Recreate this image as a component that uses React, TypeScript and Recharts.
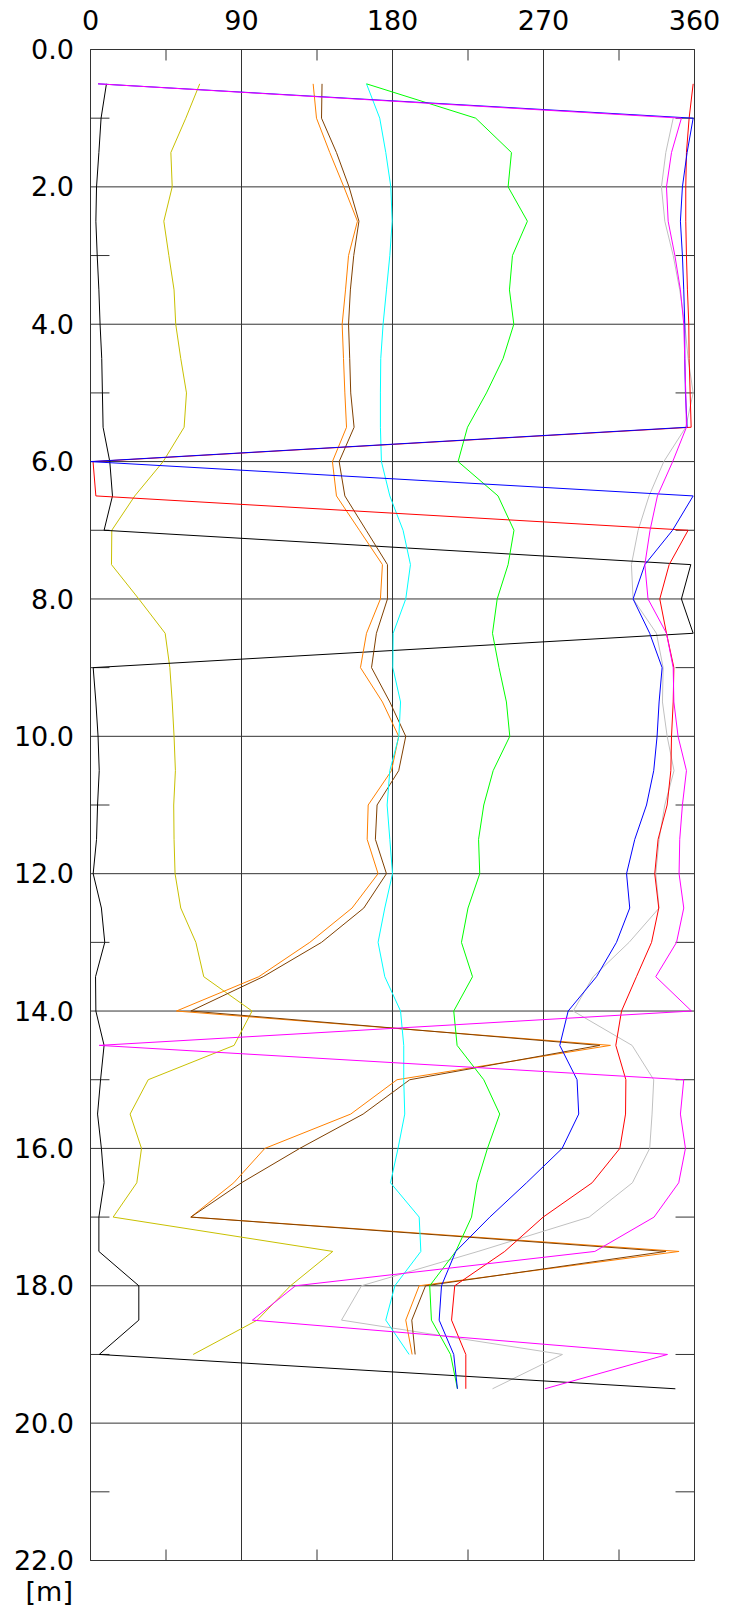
import React from 'react';
import { ScatterChart, Scatter, XAxis, YAxis, CartesianGrid, ReferenceLine } from 'recharts';

// Depth of each reading [m]
const DEPTHS = [0.5, 1.0, 1.5, 2.0, 2.5, 3.0, 3.5, 4.0, 4.5, 5.0, 5.5, 6.0, 6.5, 7.0, 7.5, 8.0, 8.5, 9.0, 9.5, 10.0,
  10.5, 11.0, 11.5, 12.0, 12.5, 13.0, 13.5, 14.0, 14.5, 15.0, 15.5, 16.0, 16.5, 17.0, 17.5, 18.0, 18.5, 19.0, 19.5];

const X_TICKS = [0, 90, 180, 270, 360];
const X_MINOR = [45, 135, 225, 315];
const Y_TICKS = [0, 2, 4, 6, 8, 10, 12, 14, 16, 18, 20, 22];
const Y_MINOR = [1, 3, 5, 7, 9, 11, 13, 15, 17, 19, 21];

// Angle readings [deg] per series (aligned with DEPTHS, null = no reading)
const BLACK = [9.5, 6.3, 5, 3.6, 3.2, 4, 5, 5.7, 6.7, 7.1, 7.5, 11.5, 13.1, 8.1, 357.8, 352.2, 359.2, 1.6, 3.2, 4.5,
  5.2, 4.2, 3.6, 1.6, 6.5, 8.5, 3, 3.2, 8.1, 6, 4.2, 6.5, 8.1, 5, 5, 28.8, 28.8, 5.2, 348.6];
const OLIVE = [65.1, 56.8, 47.9, 48.7, 43.7, 46.7, 49.8, 50.8, 53.8, 57.2, 55.8, 43.3, 26.4, 12.7, 12.5, 28.8, 44.5, 47.3, 48.7, 49.8,
  50.6, 49.6, 49.8, 50.4, 53.8, 62.8, 67.5, 96.3, 85.6, 34.4, 23.6, 30.4, 27.6, 13.5, 144.4, 119.2, 99.4, 61.2, null];
const ORANGE = [132.7, 134.7, 142.6, 151, 159.1, 153.8, 152, 150, 150.8, 151.6, 152.6, 144.2, 146.6, 160.3, 174, 172.8, 164.5, 160.9, 174, 183.7,
  179.4, 165.5, 164.9, 171.4, 155.9, 130.7, 100.3, 51.2, 309.9, 182.7, 155.1, 103.9, 85.4, 59.8, 350.8, 195.9, 187.9, 191.7, null];
const BROWN = [138, 137.7, 146.6, 154.1, 160, 156.9, 154.9, 153.8, 154.5, 155.1, 157.1, 148.2, 151.6, 164.3, 177, 177, 170.4, 167.5, 178.4, 187.9,
  183.7, 170.8, 169.8, 176.4, 162.9, 137.7, 102.9, 59.8, 303.5, 190.3, 162.5, 124.7, 90, 59.8, 342.9, 199.7, 191.5, 193.5, null];
const CYAN = [164.5, 172.4, 176, 179, 179.8, 178.4, 176.4, 174.4, 173, 172.8, 172.8, 173.4, 178.4, 186.3, 190.7, 187.9, 180.4, 180.2, 184.8, 183.8,
  178.4, 176.8, 178.4, 180, 175.4, 171.4, 175.4, 184.8, 186.7, 186.7, 187.3, 183.3, 178.8, 195.9, 196.9, 181.4, 176, 189.9, null];
const GREEN = [164.5, 229.6, 250.9, 248.9, 260.4, 251.5, 249.7, 252.3, 245.9, 236, 224.7, 219.1, 242.9, 252.4, 248.9, 242.4, 239.6, 243.5, 247.9, 249.9,
  240, 234.4, 231.3, 232, 225, 221.1, 227.7, 216.5, 218.5, 234.4, 243.9, 236.6, 230.4, 227.1, 217.7, 202.2, 203.2, 214.6, 218.7];
const SILVER = [null, 347.3, 342.9, 340.3, 342.3, 347.3, 351.2, 354.2, 356.2, 359.2, 354.8, 341.7, 332.9, 326.4, 322.4, 323.4, 337.3, 341.3, 340.9, 343.7,
  347.8, 342.3, 338.9, 336.9, 338.9, 321, 299.6, 287.7, 322.8, 335.7, 334.7, 333.3, 323, 297.2, 231, 161.5, 149.6, 281.3, 239.6];
const MAGENTA = [4.5, 352.2, 346.3, 343.3, 344.3, 348.3, 351.6, 353.6, 354.2, 354.8, 355.2, 347, 337.9, 333.5, 330.4, 332.3, 343.3, 347.3, 347.7, 350.2,
  355.2, 352.8, 351.2, 350.8, 353.6, 349.3, 336.9, 358.2, 5.2, 353.6, 351.6, 354.6, 350.6, 335.9, 300.6, 122.2, 96.5, 343.9, 270.8];
const BLUE = [4.5, 359.2, 355.6, 352.8, 351.6, 352.8, 353.6, 354.2, 354.2, 354.6, 355.6, 0, 359.2, 346.9, 330.4, 323.4, 333.3, 340.7, 338.9, 337.7,
  335.7, 331.4, 324.4, 319.5, 321.4, 313.5, 301.6, 284.7, 279.7, 290, 291, 281.1, 259.9, 238, 217.7, 209.2, 207.8, 216.5, 218.7];
const RED = [359.2, 356.8, 355.2, 354.8, 354.8, 355.2, 355.8, 356.6, 356.8, 357.4, 358, 1.5, 3.2, 356.2, 344.9, 339.3, 343.3, 347.7, 347.3, 346.3,
  345.9, 343.7, 338.3, 336.3, 338.7, 334.4, 325.4, 316.5, 313.1, 319.1, 318.9, 315.5, 299, 269.8, 246.9, 217.1, 215.2, 223.7, 223.7];

const SERIES = [
  { name: 'silver', color: '#c0c0c0', values: SILVER },
  { name: 'olive', color: '#c8c000', values: OLIVE },
  { name: 'black', color: '#000000', values: BLACK },
  { name: 'orange', color: '#ff8000', values: ORANGE },
  { name: 'brown', color: '#804000', values: BROWN },
  { name: 'cyan', color: '#00ffff', values: CYAN },
  { name: 'green', color: '#00ff00', values: GREEN },
  { name: 'red', color: '#ff0000', values: RED },
  { name: 'blue', color: '#0000ff', values: BLUE },
  { name: 'magenta', color: '#ff00ff', values: MAGENTA },
];

const toPoints = (values: (number | null)[]) =>
  DEPTHS.map((d, i) => ({ depth: d, deg: values[i] })).filter((p) => p.deg !== null && p.deg !== undefined);

const FONT = 'DejaVu Sans, Verdana, sans-serif';
const FONT_SIZE = 27;
const FRAME = '#333333';
const TICK_LEN_Y = 0.16; // length of top/bottom minor ticks in metres
const TICK_LEN_X = 11.3; // length of side minor ticks in degrees

const noDot = () => null;

export default function App() {
  return (
    <div style={{ margin: '-8px 0 0 -8px', width: 730, height: 1608 }}>
      <ScatterChart width={730} height={1608} margin={{ top: 0, left: 0, right: 35.5, bottom: 47.5 }}>
        <XAxis
          dataKey="deg"
          type="number"
          domain={[0, 360]}
          ticks={X_TICKS}
          interval={0}
          orientation="top"
          height={49.5}
          axisLine={false}
          tickLine={false}
          tickSize={0}
          tickMargin={20}
          allowDataOverflow
          tick={{ fill: '#000', fontSize: FONT_SIZE, fontFamily: FONT }}
        />
        <YAxis
          dataKey="depth"
          type="number"
          domain={[0, 22]}
          reversed
          ticks={Y_TICKS}
          interval={0}
          width={90.5}
          axisLine={false}
          tickLine={false}
          tickSize={0}
          tickMargin={16.5}
          allowDataOverflow
          tickFormatter={(v: number) => v.toFixed(1)}
          tick={{ fill: '#000', fontSize: FONT_SIZE, fontFamily: FONT }}
          label={{ value: '[m]', position: 'bottom', offset: 21, fill: '#000', fontSize: FONT_SIZE, fontFamily: FONT, dx: 4 }}
        />
        <CartesianGrid stroke={FRAME} strokeWidth={1} />
        <ReferenceLine x={0} stroke={FRAME} ifOverflow="visible" />
        <ReferenceLine x={360} stroke={FRAME} ifOverflow="visible" />
        <ReferenceLine y={0} stroke={FRAME} ifOverflow="visible" />
        <ReferenceLine y={22} stroke={FRAME} ifOverflow="visible" />
        {X_MINOR.map((v) => (
          <ReferenceLine key={'mt' + v} segment={[{ x: v, y: 0 }, { x: v, y: TICK_LEN_Y }]} stroke={FRAME} ifOverflow="visible" />
        ))}
        {X_MINOR.map((v) => (
          <ReferenceLine key={'mb' + v} segment={[{ x: v, y: 22 }, { x: v, y: 22 - TICK_LEN_Y }]} stroke={FRAME} ifOverflow="visible" />
        ))}
        {Y_MINOR.map((v) => (
          <ReferenceLine key={'ml' + v} segment={[{ x: 0, y: v }, { x: TICK_LEN_X, y: v }]} stroke={FRAME} ifOverflow="visible" />
        ))}
        {Y_MINOR.map((v) => (
          <ReferenceLine key={'mr' + v} segment={[{ x: 360, y: v }, { x: 360 - TICK_LEN_X, y: v }]} stroke={FRAME} ifOverflow="visible" />
        ))}
        {SERIES.map((s) => (
          <Scatter
            key={s.name}
            name={s.name}
            data={toPoints(s.values)}
            fill={s.color}
            line={{ stroke: s.color, strokeWidth: 1 }}
            lineJointType="linear"
            shape={noDot}
            isAnimationActive={false}
          />
        ))}
      </ScatterChart>
    </div>
  );
}
